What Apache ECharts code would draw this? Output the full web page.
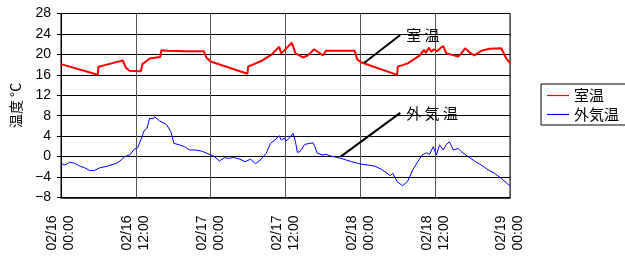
<!DOCTYPE html>
<html>
<head>
<meta charset="utf-8">
<script src="https://cdn.jsdelivr.net/npm/echarts@6/dist/echarts.min.js"></script>
<style>
html,body{margin:0;padding:0;background:#fff;}
#c{width:625px;height:258px;}
</style>
</head>
<body>
<div id="c"></div>
<script>
// ---- data (hours since 02/16 00:00, temperature °C) ----
const xTickLabels = ['02/16\n00:00','02/16\n12:00','02/17\n00:00','02/17\n12:00','02/18\n00:00','02/18\n12:00','02/19\n00:00'];
const roomHours = [0,5.9,6.0,7,9.9,10.4,11,12.8,13.1,13.5,14.2,15.9,16.1,17,20,22.9,23.3,24,29.9,30.0,32.1,33.7,35.0,35.3,36.0,37.0,37.6,38.8,39.6,40.6,42.0,42.5,47.1,47.5,48.2,53.9,54.0,55.6,57.5,58.2,58.5,59.0,59.4,59.8,60.3,60.8,61.3,61.8,63.7,64.2,64.8,65.5,66.3,67.4,68.7,70.6,71.4,72];
const roomTemps = [18.1,16.0,17.6,17.9,18.8,17.4,16.8,16.7,18.2,18.5,19.2,19.5,20.8,20.7,20.6,20.6,19.4,18.6,16.2,17.6,18.7,19.9,21.5,20.2,21.0,22.3,20.2,19.4,19.8,21.0,19.8,20.7,20.7,19.0,18.4,16.0,17.6,18.25,19.75,20.9,20.3,21.3,20.5,21.0,20.6,21.2,21.6,20.2,19.6,20.2,21.2,20.4,19.8,20.7,21.1,21.2,19.2,18.3];
const outHours = [0,0.6,1.4,2.2,3.0,3.8,4.6,5.4,6.2,7.5,8.9,9.7,10.2,11.0,11.8,12.3,12.9,13.3,13.8,14.2,14.8,15.0,15.8,16.9,17.6,18.1,19.0,19.8,20.6,21.4,22.5,23.8,24.6,25.4,26.2,27.0,27.6,28.7,29.5,30.4,31.2,32.1,32.9,33.6,34.3,35.0,35.3,35.8,36.1,36.6,37.2,37.6,37.9,38.3,39.1,40.4,40.7,41.1,42.0,42.5,43.3,44.9,46.6,48.2,49.2,50.3,51.4,52.3,52.8,53.2,53.9,54.8,55.6,56.4,57.2,57.9,58.6,59.1,59.7,60.2,60.7,61.3,61.8,62.3,62.9,63.7,64.2,65.3,66.3,67.4,68.5,69.5,70.6,71.8,72];
const outTemps = [-1.3,-1.65,-1.1,-1.3,-1.85,-2.2,-2.7,-2.7,-2.2,-1.85,-1.3,-0.65,0,0.3,1.5,1.75,3.6,5.0,5.55,7.5,7.4,7.8,7.0,6.3,4.9,2.6,2.3,1.95,1.3,1.3,1.1,0.45,0,-0.85,-0.2,-0.35,-0.15,-0.5,-1.0,-0.5,-1.4,-0.5,0.65,2.6,3.25,4.1,3.25,3.6,3.05,3.6,4.55,2.9,0.85,0.95,2.4,2.7,1.95,0.65,0.3,0.45,0.1,-0.35,-1.0,-1.5,-1.65,-1.85,-2.5,-3.25,-3.75,-3.25,-4.9,-5.7,-4.8,-2.6,-1.0,0.3,0.75,0.45,1.95,0.3,2.3,1.3,2.4,2.9,1.3,1.6,0.95,0,-0.85,-1.65,-2.6,-3.25,-4.25,-5.55,-5.7];
const seriesNames = ['室温','外気温'];
// annotation leader lines: [startHour, startTemp, endHour, endTemp]
const roomNote = [48.6, 18.3, 54.4, 23.8];
const outNote = [44.85, 0.0, 54.4, 8.55];

const roomData = roomHours.map((h,i)=>[h, roomTemps[i]]);
const outData = outHours.map((h,i)=>[h, outTemps[i]]);

const jp = '"Noto Sans CJK JP", sans-serif';
const lat = '"Liberation Sans", Arial, sans-serif';

function note(n, text){
  return {
    markLine: {
      silent: true, symbol: 'none', animation: false,
      lineStyle: {color: '#000', width: 2, type: 'solid'},
      label: {show: false},
      data: [[{coord: [n[0], n[1]]}, {coord: [n[2], n[3]]}]]
    },
    markPoint: {
      silent: true, symbol: 'circle', symbolSize: 0, animation: false,
      label: {show: true, position: 'right', distance: 6, formatter: text,
        fontFamily: jp, fontSize: 15, color: '#000'},
      data: [{coord: [n[2], n[3]]}]
    }
  };
}

const chart = echarts.init(document.getElementById('c'), null, {renderer: 'canvas'});
chart.setOption({
  animation: false,
  backgroundColor: '#fff',
  grid: {left: 61, right: 115, top: 13.5, bottom: 60.5, show: true, borderColor: '#000', borderWidth: 1},
  legend: {
    orient: 'vertical', left: 541, top: 84,
    data: seriesNames,
    icon: 'rect', itemWidth: 22, itemHeight: 1.2, itemGap: 4,
    borderColor: '#000', borderWidth: 1, padding: [4, 30, 3, 6],
    textStyle: {fontFamily: jp, fontSize: 15, color: '#000'}
  },
  xAxis: {
    type: 'value', min: 0, max: 72, interval: 12,
    axisLine: {show: true, onZero: false, lineStyle: {color: '#000', width: 1.5}},
    axisTick: {show: false},
    splitLine: {show: true, lineStyle: {color: '#555', width: 1}},
    axisLabel: {
      rotate: 90, margin: 18, fontFamily: lat, fontSize: 14, color: '#000', lineHeight: 17,
      formatter: v => xTickLabels[Math.round(v/12)]
    }
  },
  yAxis: {
    type: 'value', min: -8, max: 28, interval: 4,
    name: '温度 °C', nameLocation: 'middle', nameGap: 38, nameRotate: 90,
    nameTextStyle: {fontFamily: jp, fontSize: 14, color: '#000'},
    axisLine: {show: true, onZero: false, lineStyle: {color: '#000'}},
    axisTick: {show: true, inside: false, length: 4, lineStyle: {color: '#000'}},
    splitLine: {show: true, lineStyle: {color: '#000', width: 1}},
    axisLabel: {margin: 10, fontFamily: lat, fontSize: 14, color: '#000',
      formatter: v => String(v).replace('-', '\u2212')}
  },
  series: [
    Object.assign({
      name: seriesNames[0], type: 'line', data: roomData, showSymbol: false, symbol: 'none',
      lineStyle: {color: '#ff0000', width: 2}, itemStyle: {color: '#ff0000'}, z: 3
    }, note(roomNote, '室 温')),
    Object.assign({
      name: seriesNames[1], type: 'line', data: outData, showSymbol: false, symbol: 'none',
      lineStyle: {color: '#0000ff', width: 1}, itemStyle: {color: '#0000ff'}, z: 3
    }, note(outNote, '外 気 温'))
  ]
});
</script>
</body>
</html>
